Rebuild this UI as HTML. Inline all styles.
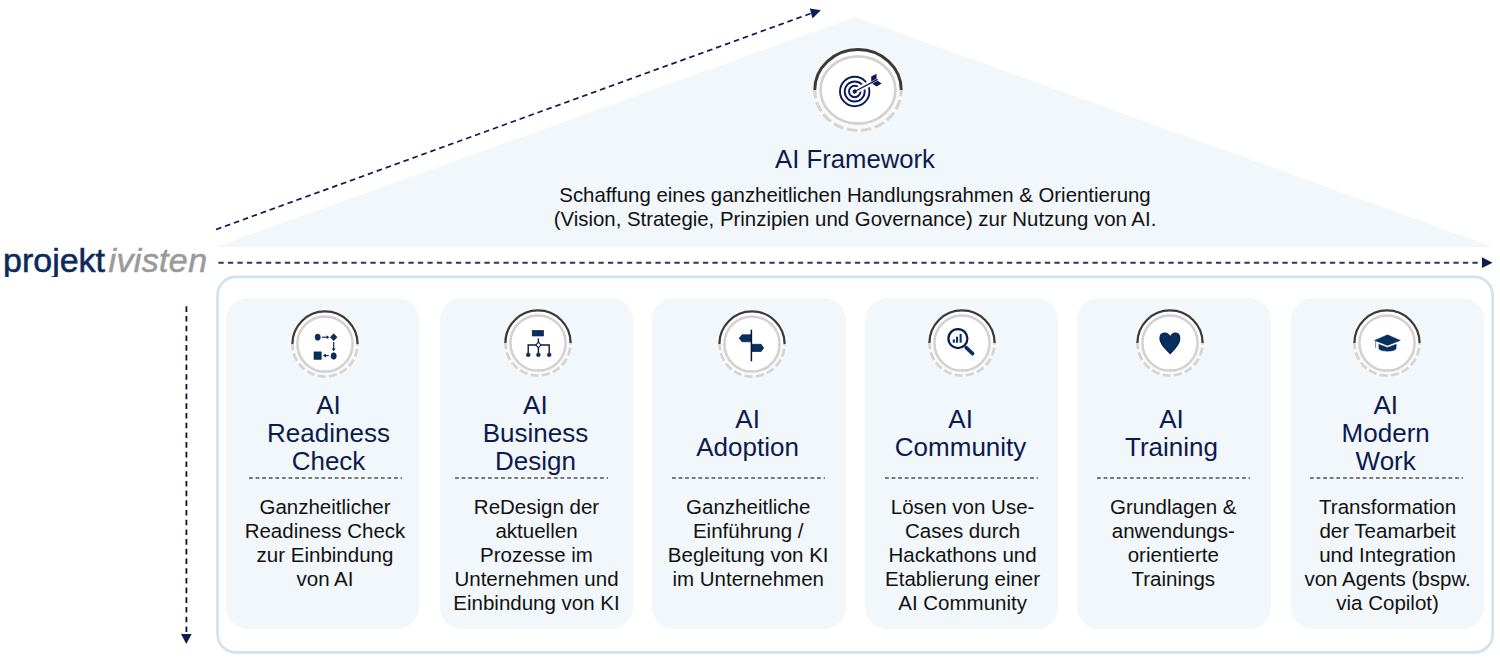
<!DOCTYPE html>
<html>
<head>
<meta charset="utf-8">
<style>
html,body{margin:0;padding:0;}
body{width:1500px;height:661px;position:relative;overflow:hidden;background:#ffffff;font-family:"Liberation Sans",sans-serif;}
#bg{position:absolute;left:0;top:0;width:1500px;height:661px;}
.card{position:absolute;top:298.3px;height:330.4px;background:#f2f7fb;border-radius:22px;}
.ttl{position:absolute;width:220px;text-align:center;color:#0c1a4e;font-size:26.0px;line-height:27.8px;white-space:nowrap;}
.sep{position:absolute;top:477.1px;height:1.5px;background-image:linear-gradient(to right,#7a7a7a 0,#7a7a7a 3.7px,transparent 3.7px);background-size:6.6px 100%;background-repeat:repeat-x;}
.body{position:absolute;width:220px;top:494.8px;text-align:center;color:#111111;font-size:20.5px;line-height:24.1px;white-space:nowrap;}
.logo{position:absolute;left:3px;top:240px;height:36.6px;overflow:hidden;padding-top:3px;box-sizing:border-box;font-size:34px;line-height:34px;white-space:nowrap;-webkit-text-stroke:0.55px;}
</style>
</head>
<body>
<svg id="bg" width="1500" height="661" viewBox="0 0 1500 661">
  <polygon points="216,247 855,17 1493,247" fill="#f2f7fb"/>
  <line x1="216" y1="229.5" x2="812" y2="13" stroke="#0f1a55" stroke-width="1.7" stroke-dasharray="5.6 3.9"/>
  <polygon points="820.8,10.2 809.8,8.6 812.5,18.6" fill="#0d1e5a"/>
  <line x1="218.4" y1="262.8" x2="1481" y2="262.8" stroke="#28376a" stroke-width="2" stroke-dasharray="5.3 4.2"/>
  <polygon points="1482,257.3 1492.5,262.7 1482,268" fill="#0d1e4f"/>
  <line x1="186.4" y1="306.3" x2="186.4" y2="632" stroke="#0b1040" stroke-width="1.8" stroke-dasharray="5.6 4.1"/>
  <polygon points="181,634 191.6,634 186.3,644" fill="#0d1e4f"/>
  <rect x="217.5" y="276.9" width="1275.2" height="375.5" rx="18.5" ry="18.5" fill="none" stroke="#cfe2ef" stroke-width="2.6"/>
</svg>
<div class="logo"><span style="color:#0b2a5a;-webkit-text-stroke-color:#0b2a5a;">projekt</span><span style="font-style:italic;color:#9a9a9a;-webkit-text-stroke-color:#9a9a9a;margin-left:3.5px;letter-spacing:0.35px;">ivisten</span></div>
<svg style="position:absolute;left:807.50px;top:40.00px;" width="100" height="100" viewBox="-50 -50 100 100">
  <ellipse cx="0" cy="0" rx="46" ry="43.2" fill="#f7fafc"/>
  <path d="M-43.25,0 A43.25,40.45 0 0 1 43.25,0 Z" fill="#ffffff"/>
  <ellipse cx="0" cy="0" rx="37.4" ry="33.6" fill="#ffffff"/>
  <path d="M-43.25,0 A43.25,40.45 0 0 1 43.25,0" fill="none" stroke="#3a3a3a" stroke-width="2.9"/>
  <path d="M-43.25,0 A43.25,40.45 0 0 0 43.25,0" fill="none" stroke="#d6d4d3" stroke-width="3.1" stroke-dasharray="10.5 3.6" stroke-dashoffset="2"/>
  <ellipse cx="0" cy="0" rx="37.4" ry="33.6" fill="none" stroke="#d3d1d0" stroke-width="2.6"/>
  <g transform="translate(-3.3,1.5)">
    <circle r="14.7" fill="none" stroke="#0c1858" stroke-width="1.9"/>
    <circle r="10.0" fill="none" stroke="#0c1858" stroke-width="1.9"/>
    <circle r="5.7" fill="none" stroke="#0c1858" stroke-width="1.9"/>
    <g transform="rotate(-27.8)">
      <rect x="3.2" y="-2.9" width="14.5" height="5.8" fill="#ffffff"/>
      <circle r="2.1" fill="#0c1858"/>
      <line x1="0" y1="0" x2="26" y2="0" stroke="#0c1858" stroke-width="1.4"/>
      <polygon points="19.3,-1.1 25.3,-1.1 27.6,-5.6 21.6,-5.6" fill="#0c1858"/>
      <polygon points="19.3,1.1 25.3,1.1 27.6,5.6 21.6,5.6" fill="#0c1858"/>
    </g>
  </g>
</svg>
<div style="position:absolute;left:555px;width:600px;top:144.3px;text-align:center;color:#0c1a4e;font-size:25.7px;line-height:30px;">AI Framework</div>
<div style="position:absolute;left:455px;width:800px;top:182.6px;text-align:center;color:#111111;font-size:20.4px;line-height:24.5px;">Schaffung eines ganzheitlichen Handlungsrahmen &amp; Orientierung<br>(Vision, Strategie, Prinzipien und Governance) zur Nutzung von AI.</div>
<div class="card" style="left:226.0px;width:193.1px;"></div>
<svg style="position:absolute;left:284.70px;top:303.90px;" width="80" height="80" viewBox="-40 -40 80 80">
  <circle cx="0" cy="0" r="34.5" fill="#f7fafc"/>
  <circle cx="0" cy="0" r="27.6" fill="#ffffff"/>
  <path d="M-32.6,0 A32.6,32.6 0 0 1 32.6,0 Z" fill="#ffffff"/>
  <path d="M-32.6,0 A32.6,32.6 0 0 1 32.6,0" fill="none" stroke="#3a3a3a" stroke-width="2.3"/>
  <path d="M-32.6,0 A32.6,32.6 0 0 0 32.6,0" fill="none" stroke="#d6d4d3" stroke-width="2.7" stroke-dasharray="8.3 3.1" stroke-dashoffset="2"/>
  <circle cx="0" cy="0" r="27.6" fill="#ffffff" stroke="#d3d1d0" stroke-width="2.5"/>
  
  <g fill="#07305f" stroke="#0a1a4c" stroke-width="0.6">
    <ellipse cx="-7.3" cy="-6.8" rx="2.6" ry="3.1"/>
    <polygon points="8.7,-10.3 12.0,-6.8 8.7,-3.3 5.4,-6.8"/>
    <ellipse cx="8.7" cy="12.0" rx="2.6" ry="3.3"/>
    <rect x="-11" y="7.9" width="7.2" height="7.4"/>
  </g>
  <g stroke="#0a1a4c" stroke-width="1.1" fill="none">
    <line x1="-3.0" y1="-6.8" x2="2.4" y2="-6.8"/>
    <line x1="8.7" y1="-2.0" x2="8.7" y2="5.0"/>
    <line x1="3.8" y1="11.6" x2="-0.8" y2="11.6"/>
  </g>
  <g fill="#0a1a4c">
    <polygon points="4.4,-6.8 1.6,-8.7 1.6,-4.9"/>
    <polygon points="8.7,7.3 6.8,4.4 10.6,4.4"/>
    <polygon points="-2.0,11.6 0.8,9.7 0.8,13.5"/>
  </g>
</svg>
<div class="ttl" style="left:218.50px;top:392.40px;">AI<br>Readiness<br>Check</div>
<div class="sep" style="left:248.70px;width:153.60px;"></div>
<div class="body" style="left:215.00px;">Ganzheitlicher<br>Readiness Check<br>zur Einbindung<br>von AI</div>
<div class="card" style="left:440.0px;width:192.9px;"></div>
<svg style="position:absolute;left:498.05px;top:302.70px;" width="80" height="80" viewBox="-40 -40 80 80">
  <circle cx="0" cy="0" r="34.5" fill="#f7fafc"/>
  <circle cx="0" cy="0" r="27.6" fill="#ffffff"/>
  <path d="M-32.6,0 A32.6,32.6 0 0 1 32.6,0 Z" fill="#ffffff"/>
  <path d="M-32.6,0 A32.6,32.6 0 0 1 32.6,0" fill="none" stroke="#3a3a3a" stroke-width="2.3"/>
  <path d="M-32.6,0 A32.6,32.6 0 0 0 32.6,0" fill="none" stroke="#d6d4d3" stroke-width="2.7" stroke-dasharray="8.3 3.1" stroke-dashoffset="2"/>
  <circle cx="0" cy="0" r="27.6" fill="#ffffff" stroke="#d3d1d0" stroke-width="2.5"/>
  
  <rect x="-5.8" y="-12.6" width="11.4" height="5.6" fill="#07305f" stroke="#0a1a4c" stroke-width="0.6"/>
  <g stroke="#0a1a4c" stroke-width="1.4" fill="none">
    <line x1="0.4" y1="-4.6" x2="0.4" y2="10"/>
    <polyline points="-9.8,10.5 -9.8,2.0 11.2,2.0 11.2,10.5"/>
  </g>
  <polygon points="0.4,-0.9 2.9,2.0 0.4,4.9 -2.1,2.0" fill="#fff" stroke="#0a1a4c" stroke-width="1.1"/>
  <g fill="#07305f" stroke="#0a1a4c" stroke-width="0.6">
    <circle cx="-9.8" cy="11.8" r="1.9"/>
    <circle cx="0.4" cy="11.8" r="1.9"/>
    <circle cx="11.2" cy="11.8" r="1.9"/>
  </g>
</svg>
<div class="ttl" style="left:425.40px;top:392.40px;">AI<br>Business<br>Design</div>
<div class="sep" style="left:454.80px;width:153.30px;"></div>
<div class="body" style="left:426.50px;">ReDesign der<br>aktuellen<br>Prozesse im<br>Unternehmen und<br>Einbindung von KI</div>
<div class="card" style="left:651.6px;width:194.2px;"></div>
<svg style="position:absolute;left:712.25px;top:304.40px;" width="80" height="80" viewBox="-40 -40 80 80">
  <circle cx="0" cy="0" r="34.5" fill="#f7fafc"/>
  <circle cx="0" cy="0" r="27.6" fill="#ffffff"/>
  <path d="M-32.6,0 A32.6,32.6 0 0 1 32.6,0 Z" fill="#ffffff"/>
  <path d="M-32.6,0 A32.6,32.6 0 0 1 32.6,0" fill="none" stroke="#3a3a3a" stroke-width="2.3"/>
  <path d="M-32.6,0 A32.6,32.6 0 0 0 32.6,0" fill="none" stroke="#d6d4d3" stroke-width="2.7" stroke-dasharray="8.3 3.1" stroke-dashoffset="2"/>
  <circle cx="0" cy="0" r="27.6" fill="#ffffff" stroke="#d3d1d0" stroke-width="2.5"/>
  
  <polygon points="-0.5,-9.2 -10.0,-9.2 -12.8,-5.7 -10.0,-2.2 -0.5,-2.2" fill="#07305f" stroke="#0a1a4c" stroke-width="0.7"/>
  <polygon points="-0.5,0.3 9.1,0.3 11.6,4.0 9.1,7.5 -0.5,7.5" fill="#07305f" stroke="#0a1a4c" stroke-width="0.7"/>
  <line x1="-0.6" y1="-14.3" x2="-0.6" y2="17.3" stroke="#081040" stroke-width="1.5"/>
</svg>
<div class="ttl" style="left:637.60px;top:406.30px;">AI<br>Adoption</div>
<div class="sep" style="left:671.80px;width:153.70px;"></div>
<div class="body" style="left:638.20px;">Ganzheitliche<br>Einführung /<br>Begleitung von KI<br>im Unternehmen</div>
<div class="card" style="left:865.3px;width:193.2px;"></div>
<svg style="position:absolute;left:922.35px;top:302.70px;" width="80" height="80" viewBox="-40 -40 80 80">
  <circle cx="0" cy="0" r="34.5" fill="#f7fafc"/>
  <circle cx="0" cy="0" r="27.6" fill="#ffffff"/>
  <path d="M-32.6,0 A32.6,32.6 0 0 1 32.6,0 Z" fill="#ffffff"/>
  <path d="M-32.6,0 A32.6,32.6 0 0 1 32.6,0" fill="none" stroke="#3a3a3a" stroke-width="2.3"/>
  <path d="M-32.6,0 A32.6,32.6 0 0 0 32.6,0" fill="none" stroke="#d6d4d3" stroke-width="2.7" stroke-dasharray="8.3 3.1" stroke-dashoffset="2"/>
  <circle cx="0" cy="0" r="27.6" fill="#ffffff" stroke="#d3d1d0" stroke-width="2.5"/>
  
  <circle cx="-4.1" cy="-4.4" r="9.5" fill="none" stroke="#0a1a4c" stroke-width="2.2"/>
  <line x1="4.2" y1="4.6" x2="10.6" y2="10.6" stroke="#07305f" stroke-width="3.6" stroke-linecap="round"/>
  <g fill="#07305f">
    <rect x="-9.2" y="-3.6" width="2.1" height="3.3"/>
    <rect x="-6.0" y="-6.3" width="2.1" height="6.0"/>
    <rect x="-2.4" y="-9.1" width="2.1" height="8.8"/>
  </g>
</svg>
<div class="ttl" style="left:850.60px;top:406.30px;">AI<br>Community</div>
<div class="sep" style="left:885.20px;width:153.00px;"></div>
<div class="body" style="left:852.60px;">Lösen von Use-<br>Cases durch<br>Hackathons und<br>Etablierung einer<br>AI Community</div>
<div class="card" style="left:1077.4px;width:193.5px;"></div>
<svg style="position:absolute;left:1129.65px;top:302.70px;" width="80" height="80" viewBox="-40 -40 80 80">
  <circle cx="0" cy="0" r="34.5" fill="#f7fafc"/>
  <circle cx="0" cy="0" r="27.6" fill="#ffffff"/>
  <path d="M-32.6,0 A32.6,32.6 0 0 1 32.6,0 Z" fill="#ffffff"/>
  <path d="M-32.6,0 A32.6,32.6 0 0 1 32.6,0" fill="none" stroke="#3a3a3a" stroke-width="2.3"/>
  <path d="M-32.6,0 A32.6,32.6 0 0 0 32.6,0" fill="none" stroke="#d6d4d3" stroke-width="2.7" stroke-dasharray="8.3 3.1" stroke-dashoffset="2"/>
  <circle cx="0" cy="0" r="27.6" fill="#ffffff" stroke="#d3d1d0" stroke-width="2.5"/>
  
  <path d="M0.2,-5.6 C-1.6,-11.4 -10.0,-11.9 -10.1,-4.6 C-10.2,0.8 -4.4,6.0 0.2,10.7 C4.8,6.0 10.0,0.8 9.8,-4.6 C9.7,-11.9 2.0,-11.4 0.2,-5.6 Z" fill="#07305f" stroke="#0a1a4c" stroke-width="1.1"/>
</svg>
<div class="ttl" style="left:1061.50px;top:406.30px;">AI<br>Training</div>
<div class="sep" style="left:1096.50px;width:153.70px;"></div>
<div class="body" style="left:1063.30px;">Grundlagen &amp;<br>anwendungs-<br>orientierte<br>Trainings</div>
<div class="card" style="left:1290.9px;width:192.8px;"></div>
<svg style="position:absolute;left:1347.25px;top:302.70px;" width="80" height="80" viewBox="-40 -40 80 80">
  <circle cx="0" cy="0" r="34.5" fill="#f7fafc"/>
  <circle cx="0" cy="0" r="27.6" fill="#ffffff"/>
  <path d="M-32.6,0 A32.6,32.6 0 0 1 32.6,0 Z" fill="#ffffff"/>
  <path d="M-32.6,0 A32.6,32.6 0 0 1 32.6,0" fill="none" stroke="#3a3a3a" stroke-width="2.3"/>
  <path d="M-32.6,0 A32.6,32.6 0 0 0 32.6,0" fill="none" stroke="#d6d4d3" stroke-width="2.7" stroke-dasharray="8.3 3.1" stroke-dashoffset="2"/>
  <circle cx="0" cy="0" r="27.6" fill="#ffffff" stroke="#d3d1d0" stroke-width="2.5"/>
  
  <path d="M-8.2,1.2 L-8.2,4.8 C-8.2,7.6 -3.5,8.2 0.5,8.2 C4.5,8.2 9.2,7.6 9.2,4.8 L9.2,1.2 L0.5,4.6 Z" fill="#07305f" stroke="#0a1a4c" stroke-width="0.4"/>
  <polygon points="-12.5,-2.6 0.5,-8.3 13.4,-2.6 0.5,2.4" fill="#07305f" stroke="#0a1a4c" stroke-width="0.4"/>
  <line x1="-11.4" y1="-2.2" x2="-11.4" y2="4.8" stroke="#6f8fb5" stroke-width="1.1"/>
</svg>
<div class="ttl" style="left:1275.70px;top:392.40px;">AI<br>Modern<br>Work</div>
<div class="sep" style="left:1309.50px;width:153.20px;"></div>
<div class="body" style="left:1277.60px;">Transformation<br>der Teamarbeit<br>und Integration<br>von Agents (bspw.<br>via Copilot)</div>
</body>
</html>
